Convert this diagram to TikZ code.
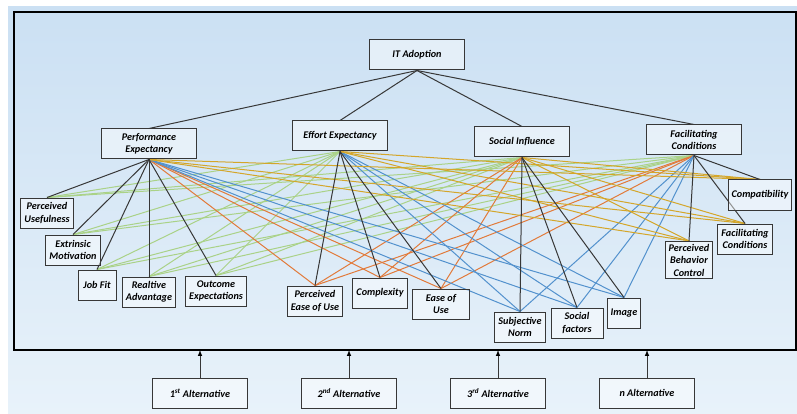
\documentclass[tikz,border=0pt]{standalone}
\usepackage{fontspec}
\setmainfont{Carlito}
\usetikzlibrary{positioning,backgrounds}

\definecolor{skytop}{RGB}{203,224,243}
\definecolor{skybot}{RGB}{232,242,250}
\definecolor{boxline}{RGB}{55,55,55}
\definecolor{pegreen}{RGB}{170,210,135}
\definecolor{eeorange}{RGB}{226,122,58}
\definecolor{siblue}{RGB}{82,145,205}
\definecolor{fcgold}{RGB}{212,166,42}

\tikzset{
  box/.style={draw=boxline, line width=1pt, fill=white, fill opacity=0.45,
    text opacity=1, align=center, inner xsep=3.5pt, inner ysep=2.5pt,
    minimum height=30pt, font=\fontsize{10.2}{12.5}\selectfont\bfseries\itshape},
  crit/.style={box, minimum width=95pt},
  own/.style={draw=boxline, line width=1pt},
  togrn/.style={draw=pegreen, line width=1pt},
  toorg/.style={draw=eeorange, line width=1pt},
  toblu/.style={draw=siblue, line width=1pt},
  togld/.style={draw=fcgold, line width=1pt}
}

\begin{document}
\begin{tikzpicture}[x=1pt,y=-1pt,node distance=149pt,on grid,>=latex]
  \useasboundingbox (0,0) rectangle (797,414);

  % goal and criteria
  \node[crit] (it) at (417,55) {IT Adoption};
  \node[crit] (pe) at (149,144) {Performance\\Expectancy};
  \node[crit] (ee) at (340,136) {Effort Expectancy};
  \node[crit] (si) at (522,142) {Social Influence};
  \node[crit] (fc) at (694,140) {Facilitating\\Conditions};

  % sub-criteria
  \node[box] (pu) at (47,213) {Perceived\\Usefulness};
  \node[box] (em) at (73,250) {Extrinsic\\Motivation};
  \node[box, minimum width=38pt] (jf) at (97,285) {Job Fit};
  \node[box] (ra) at (149,292) {Realtive\\Advantage};
  \node[box] (oe) at (216,291) {Outcome\\Expectations};
  \node[box] (peu) at (315,301) {Perceived\\Ease of Use};
  \node[box] (cx) at (380,293) {Complexity};
  \node[box, minimum width=57pt] (eou) at (441,304) {Ease of\\Use};
  \node[box] (sn) at (520,327) {Subjective\\Norm};
  \node[box, minimum width=52pt] (sf) at (577,323) {Social\\factors};
  \node[box] (img) at (624,313) {Image};
  \node[box] (pbc) at (689,260) {Perceived\\Behavior\\Control};
  \node[box] (fcs) at (745,239) {Facilitating\\Conditions};
  \node[box] (cmp) at (760,195) {Compatibility};

  \node[draw, line width=1.6pt, inner sep=0pt, outer sep=0pt,
    minimum width=782pt, minimum height=338pt] (frame) at (405,181) {};

  % alternatives
  \node[crit] (a1) at (200,393) {1\textsuperscript{st} Alternative};
  \node[crit] (a2) [right=of a1] {2\textsuperscript{nd} Alternative};
  \node[crit] (a3) [right=of a2] {3\textsuperscript{rd} Alternative};
  \node[crit] (a4) [right=of a3] {n Alternative};
  \path[->, own] (a1) edge (a1 |- frame.south)
    (a2) edge (a2 |- frame.south)
    (a3) edge (a3 |- frame.south)
    (a4) edge (a4 |- frame.south);

  \begin{scope}[on background layer]
    \fill[top color=skytop, bottom color=skybot] (8,7) rectangle (797,414);
    \path[togrn] (ee.south) edge (pu.north) edge (em.north) edge (jf.north) edge (ra.north) edge (oe.north)
      (si.south) edge (pu.north) edge (em.north) edge (jf.north) edge (ra.north) edge (oe.north)
      (fc.south) edge (pu.north) edge (em.north) edge (jf.north) edge (ra.north) edge (oe.north);
    \path[toorg] (pe.south) edge (peu.north) edge (cx.north) edge (eou.north)
      (si.south) edge (peu.north) edge (cx.north) edge (eou.north)
      (fc.south) edge (peu.north) edge (cx.north) edge (eou.north);
    \path[toblu] (pe.south) edge (sn.north) edge (sf.north) edge (img.north)
      (ee.south) edge (sn.north) edge (sf.north) edge (img.north)
      (fc.south) edge (sn.north) edge (sf.north) edge (img.north);
    \path[togld] (pe.south) edge (pbc.north) edge (fcs.north) edge (cmp.north)
      (ee.south) edge (pbc.north) edge (fcs.north) edge (cmp.north)
      (si.south) edge (pbc.north) edge (fcs.north) edge (cmp.north);
    \path[own] (it.south) edge (pe.north) edge (ee.north) edge (si.north) edge (fc.north)
      (pe.south) edge (pu.north) edge (em.north) edge (jf.north) edge (ra.north) edge (oe.north)
      (ee.south) edge (peu.north) edge (cx.north) edge (eou.north)
      (si.south) edge (sn.north) edge (sf.north) edge (img.north)
      (fc.south) edge (pbc.north) edge (fcs.north) edge (cmp.north);
  \end{scope}
\end{tikzpicture}
\end{document}
